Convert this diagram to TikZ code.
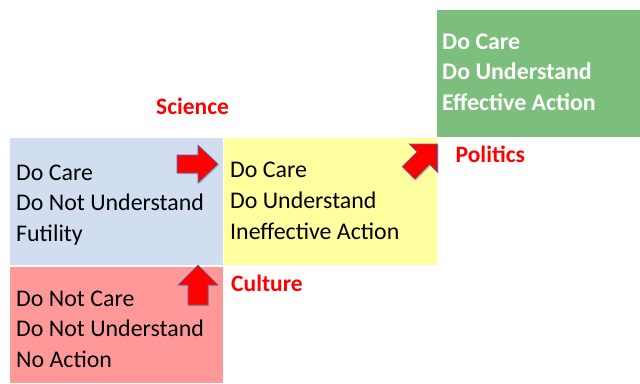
\documentclass[tikz,border=0pt]{standalone}
\usepackage{fontspec}
\setmainfont{Carlito}
\usetikzlibrary{shadows}
\definecolor{boxblue}{RGB}{208,222,240}
\definecolor{boxyellow}{RGB}{255,255,160}
\definecolor{boxred}{RGB}{255,153,153}
\definecolor{boxgreen}{RGB}{124,190,124}
\definecolor{labelred}{RGB}{255,0,0}
\definecolor{arrowblue}{RGB}{80,110,180}
\begin{document}
\begin{tikzpicture}[x=1pt,y=-1pt,
  box/.style={inner sep=0pt, outer sep=0pt, anchor=north west},
  boxtext/.style={inner sep=0pt, anchor=base west, font=\fontsize{23.9}{30.8}\selectfont},
  lbl/.style={inner sep=0pt, anchor=base west, text=labelred, font=\fontsize{23.5}{28}\selectfont\bfseries},
  blockarrow/.style={fill=red, draw=arrowblue, line width=0.6pt, line join=miter,
    drop shadow={opacity=0.35, shadow xshift=1.2pt, shadow yshift=-1.2pt, fill=black!60}}]
\useasboundingbox (0,0) rectangle (640,383);
% boxes
\node[box, fill=boxblue, minimum width=212.5pt, minimum height=127pt] (futility) at (10,138) {};
\node[box, fill=boxyellow, minimum width=213pt, minimum height=127pt] (ineffective) at (224,138) {};
\node[box, fill=boxred, minimum width=212.5pt, minimum height=116.5pt] (noaction) at (10,266.5) {};
\node[box, fill=boxgreen, minimum width=203pt, minimum height=127pt] (effective) at (437,10) {};
% box texts
\node[boxtext] (tfutility) at (16,180) {\begin{tabular}[t]{@{}l@{}}Do Care\\Do Not Understand\\Futility\end{tabular}};
\node[boxtext] (tineffective) at (230,177.5) {\begin{tabular}[t]{@{}l@{}}Do Care\\Do Understand\\Ineffective Action\end{tabular}};
\node[boxtext] (tnoaction) at (16,306) {\begin{tabular}[t]{@{}l@{}}Do Not Care\\Do Not Understand\\No Action\end{tabular}};
\node[boxtext, text=white, font=\fontsize{23.9}{30.5}\selectfont\bfseries] (teffective) at (442,49) {\begin{tabular}[t]{@{}l@{}}Do Care\\Do Understand\\Effective Action\end{tabular}};
% labels
\node[lbl] (science) at (156,114) {Science};
\node[lbl] (politics) at (455.5,162) {Politics};
\node[lbl] (culture) at (231,291) {Culture};
% block arrows
\draw[blockarrow] (218,164) -- (198,145) -- (198,155) -- (177,155) -- (177,173) -- (198,173) -- (198,183) -- cycle;
\draw[blockarrow] (198,265) -- (218,285) -- (208,285) -- (208,305) -- (188,305) -- (188,285) -- (178,285) -- cycle;
\draw[blockarrow] (437.5,144) -- (437.5,172.3) -- (429.7,164.5) -- (414.9,179.35) -- (402.15,166.6) -- (417,151.8) -- (409.2,144) -- cycle;
\end{tikzpicture}
\end{document}
